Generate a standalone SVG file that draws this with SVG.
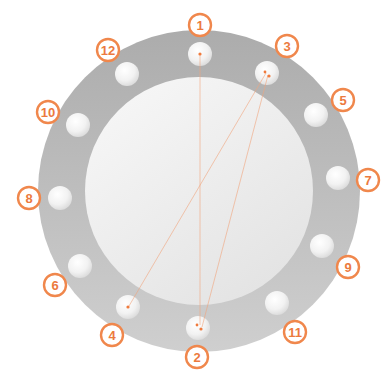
<svg xmlns="http://www.w3.org/2000/svg" width="390" height="377" viewBox="0 0 390 377">
<defs>
<linearGradient id="ring" x1="0" y1="0" x2="0" y2="1">
<stop offset="0" stop-color="#acacac"/>
<stop offset="1" stop-color="#cfcfcf"/>
</linearGradient>
<linearGradient id="inner" x1="0.2" y1="0.1" x2="0.8" y2="0.9">
<stop offset="0" stop-color="#f5f5f5"/>
<stop offset="1" stop-color="#e4e4e4"/>
</linearGradient>
<radialGradient id="hole" cx="0.4" cy="0.35" r="0.7">
<stop offset="0" stop-color="#ffffff"/>
<stop offset="0.6" stop-color="#f2f2f2"/>
<stop offset="1" stop-color="#d9d9d9"/>
</radialGradient>
<style>
.hole{fill:url(#hole)}
.badge circle{fill:#ffffff;stroke:#f0874c;stroke-width:2.4}
.badge text{fill:#ec7a3e;font-family:"Liberation Sans",Arial,sans-serif;font-weight:bold;font-size:13px;text-anchor:middle}
.conn line{stroke:#f2a67e;stroke-width:1;opacity:0.6}
.dot{fill:#f07a3c}
</style>
</defs>
<rect width="390" height="377" fill="#ffffff"/>
<circle cx="199" cy="191" r="161" fill="url(#ring)"/>
<circle cx="199" cy="191" r="114" fill="url(#inner)"/>
<g id="holes">
<circle class="hole" cx="200" cy="54" r="12"/>
<circle class="hole" cx="267" cy="73" r="12"/>
<circle class="hole" cx="316" cy="115" r="12"/>
<circle class="hole" cx="338" cy="178" r="12"/>
<circle class="hole" cx="322" cy="246" r="12"/>
<circle class="hole" cx="277" cy="303" r="12"/>
<circle class="hole" cx="198" cy="328" r="12"/>
<circle class="hole" cx="128" cy="307" r="12"/>
<circle class="hole" cx="80" cy="266" r="12"/>
<circle class="hole" cx="60" cy="198" r="12"/>
<circle class="hole" cx="78" cy="125" r="12"/>
<circle class="hole" cx="127" cy="74" r="12"/>
</g>
<g id="connectors" class="conn">
<line x1="200" y1="55" x2="200" y2="325"/>
<line x1="268" y1="75" x2="202" y2="327"/>
<line x1="266" y1="73" x2="129" y2="306"/>
</g>
<g id="dots">
<circle class="dot" cx="200" cy="54" r="1.6"/>
<circle class="dot" cx="265" cy="72" r="1.4"/>
<circle class="dot" cx="269" cy="76" r="1.6"/>
<circle class="dot" cx="128" cy="307" r="1.6"/>
<circle class="dot" cx="197" cy="325" r="1.4"/>
<circle class="dot" cx="201" cy="329" r="1.6"/>
</g>
<g id="n1" class="badge"><circle cx="200" cy="25" r="11"/><text x="200" y="29.5">1</text></g>
<g id="n2" class="badge"><circle cx="197" cy="357" r="11"/><text x="197" y="361.5">2</text></g>
<g id="n3" class="badge"><circle cx="287" cy="46" r="11"/><text x="287" y="50.5">3</text></g>
<g id="n4" class="badge"><circle cx="112" cy="335" r="11"/><text x="112" y="339.5">4</text></g>
<g id="n5" class="badge"><circle cx="343" cy="100" r="11"/><text x="343" y="104.5">5</text></g>
<g id="n6" class="badge"><circle cx="55" cy="285" r="11"/><text x="55" y="289.5">6</text></g>
<g id="n7" class="badge"><circle cx="368" cy="180" r="11"/><text x="368" y="184.5">7</text></g>
<g id="n8" class="badge"><circle cx="29" cy="198" r="11"/><text x="29" y="202.5">8</text></g>
<g id="n9" class="badge"><circle cx="348" cy="267" r="11"/><text x="348" y="271.5">9</text></g>
<g id="n10" class="badge"><circle cx="48" cy="112" r="11"/><text x="48" y="116.5">10</text></g>
<g id="n11" class="badge"><circle cx="295" cy="332" r="11"/><text x="295" y="336.5">11</text></g>
<g id="n12" class="badge"><circle cx="108" cy="50" r="11"/><text x="108" y="54.5">12</text></g>
</svg>
